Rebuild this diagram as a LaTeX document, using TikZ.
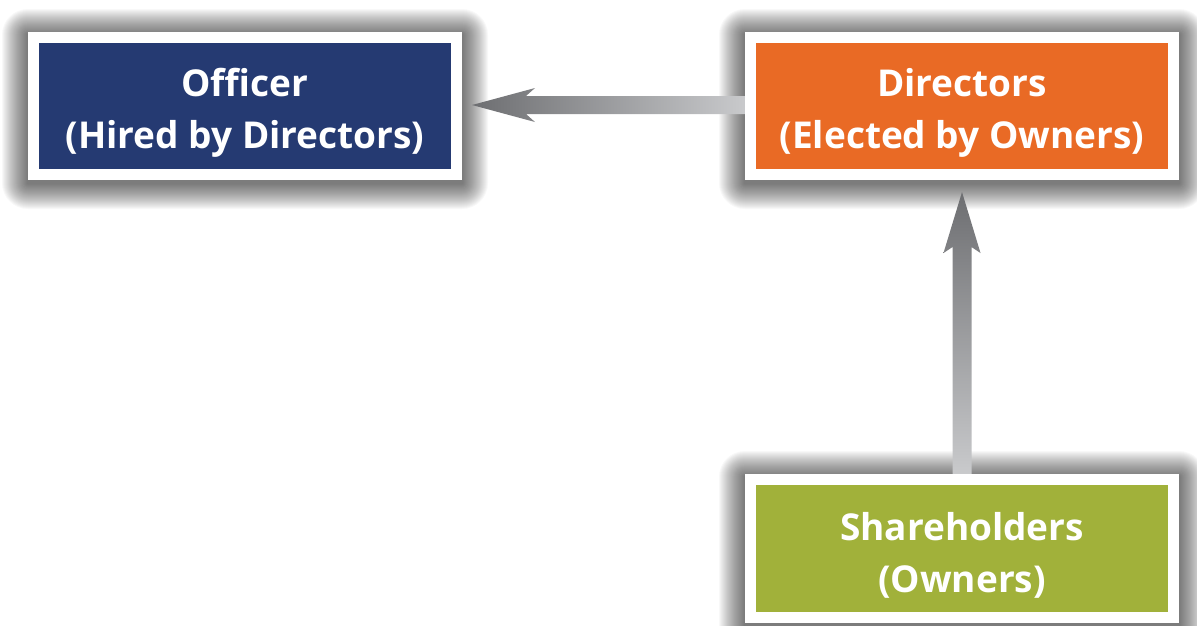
\documentclass[tikz,border=0pt]{standalone}
\usepackage{fontspec}
\setmainfont{Open Sans}
\usetikzlibrary{calc,backgrounds}
\definecolor{offblue}{HTML}{253A72}
\definecolor{dirorange}{HTML}{E96A25}
\definecolor{shgreen}{HTML}{A1B13A}
\definecolor{arrdark}{HTML}{6D6E71}
\definecolor{arrlight}{HTML}{C9CACC}
\tikzset{
  box/.style={draw=white, line width=11pt, inner sep=0pt, outer sep=0pt,
    minimum width=423pt, minimum height=137pt, text=white, align=center,
    font=\fontsize{37}{52}\selectfont\bfseries},
  shadowlayer/.style={fill=black, opacity=0.026},
}
\newcommand\topstrut{\rule{0pt}{42.5pt}}
\newcommand\boxshade[1]{%
  \foreach \i in {1,...,26}{%
    \fill[shadowlayer, rounded corners=\i pt]
      ($(#1.north west)+(-5.5-\i,-5.5-\i+3)$) rectangle ($(#1.south east)+(5.5+\i,5.5+\i+3)$);
  }}
\begin{document}
\begin{tikzpicture}[x=1pt,y=-1pt]
\useasboundingbox (0,0) rectangle (1197,625);
\node[box, fill=offblue] (off) at (245,106) {\topstrut Officer\\(Hired by Directors)};
\node[box, fill=dirorange] (dir) at (962,106) {\topstrut Directors\\(Elected by Owners)};
\node[box, fill=shgreen, minimum height=138pt] (sh) at (962,548.5) {\topstrut Shareholders\\(Owners)};
\begin{scope}[on background layer]
\boxshade{off}
\boxshade{dir}
\boxshade{sh}
% horizontal arrow Directors -> Officer
\coordinate (ht) at ($(off.east)+(15.5,-1)$);
\shade[left color=arrdark, right color=arrlight]
  (ht) -- ++(63,-17) -- ++(-9,8) -- ($(dir.west)+(-5,-10)$) -- ($(dir.west)+(-5,8)$)
  -- ($(ht)+(54,9)$) -- ($(ht)+(63,17)$) -- cycle;
% vertical arrow Shareholders -> Directors
\coordinate (vt) at ($(dir.south)+(0,17.5)$);
\shade[top color=arrdark, bottom color=arrlight]
  (vt) -- ++(-18.5,61) -- ++(9,-6) -- ($(sh.north)+(-9.5,-5)$) -- ($(sh.north)+(9.5,-5)$)
  -- ($(vt)+(9.5,55)$) -- ($(vt)+(18.5,61)$) -- cycle;
\end{scope}
\end{tikzpicture}
\end{document}
